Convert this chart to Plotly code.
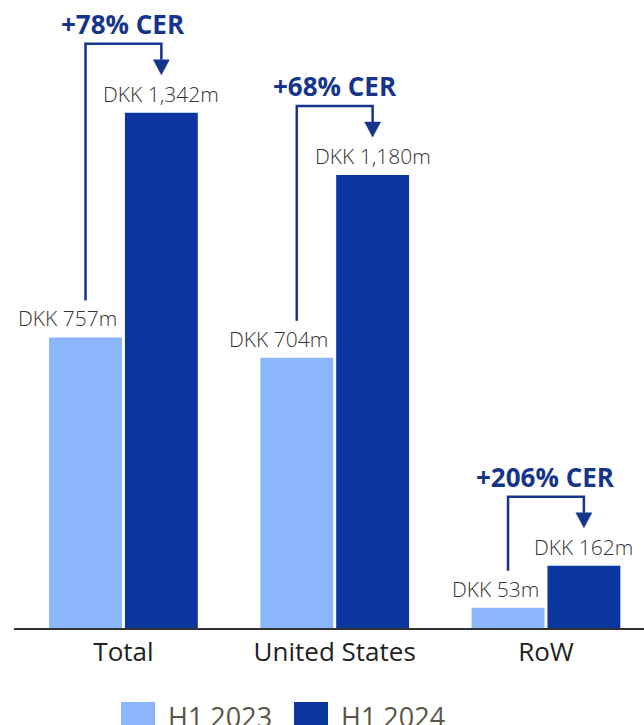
import plotly.graph_objects as go

categories = ["Total", "United States", "RoW"]
h1_2023 = [757, 704, 53]
h1_2024 = [1342, 1180, 162]
label_2023 = ["DKK 757m", "DKK 704m", "DKK 53m"]
label_2024 = ["DKK 1,342m", "DKK 1,180m", "DKK 162m"]
growth = ["+78% CER", "+68% CER", "+206% CER"]
series_names = ["H1 2023", "H1 2024"]

LIGHT = "#8cb6fc"
DARK = "#0b36a0"
NAVY = "#14358a"
FONT = "Open Sans"

W, H = 644, 725
ML, MR, MT, MB = 14, 0, 0, 97
PH = H - MT - MB          # plot height in px
PW = W - ML - MR
YMAX = 1636.0
X0, X1 = -0.518, 2.464
py = YMAX / PH            # data units per px (y)
px = (X1 - X0) / PW       # data units per px (x)

BW = 0.345
GAP = 0.007
xs = list(range(len(categories)))

fig = go.Figure()
fig.add_trace(go.Bar(x=xs, y=h1_2023, name=series_names[0], marker_color=LIGHT,
                     width=BW, offset=-GAP - BW, marker_line_width=0, showlegend=False))
fig.add_trace(go.Bar(x=xs, y=h1_2024, name=series_names[1], marker_color=DARK,
                     width=BW, offset=GAP, marker_line_width=0, showlegend=False))

ann = []
shapes = []
for i in xs:
    lc = i - GAP - BW / 2
    dc = i + GAP + BW / 2
    # value labels
    ann.append(dict(x=i - GAP, y=h1_2023[i], xref="x", yref="y", text=label_2023[i],
                    showarrow=False, xanchor="right", yanchor="middle", xshift=-3, yshift=19,
                    font=dict(family=FONT, size=21, color="#333333", weight=300)))
    ann.append(dict(x=dc, y=h1_2024[i], xref="x", yref="y", text=label_2024[i],
                    showarrow=False, xanchor="center", yanchor="middle", yshift=19,
                    font=dict(family=FONT, size=21, color="#333333", weight=300)))
    # growth text
    ann.append(dict(x=i, y=h1_2024[i] + 89 * py, xref="x", yref="y", text="<b>" + growth[i] + "</b>",
                    showarrow=False, xanchor="center", yanchor="middle",
                    font=dict(family=FONT, size=26, color=NAVY)))
    yb = h1_2023[i] + 37 * py
    yh = h1_2024[i] + 69 * py
    yt = h1_2024[i] + 53 * py
    ytip = h1_2024[i] + 38 * py
    shapes.append(dict(type="path", xref="x", yref="y",
                       path=f"M {lc} {yb} L {lc} {yh} L {dc} {yh} L {dc} {yt}",
                       line=dict(color=NAVY, width=2.5)))
    shapes.append(dict(type="path", xref="x", yref="y",
                       path=f"M {dc - 8 * px} {yt} L {dc + 8 * px} {yt} L {dc} {ytip} Z",
                       fillcolor=NAVY, line=dict(color=NAVY, width=0.5)))

# legend (drawn manually to match large swatches)
def pxx(p):
    return (p - ML) / PW

def pyy(p):
    return (PH - (p - MT)) / PH

leg_x = [121, 294]
for k, (name, col) in enumerate(zip(series_names, [LIGHT, DARK])):
    shapes.append(dict(type="rect", xref="paper", yref="paper",
                       x0=pxx(leg_x[k]), x1=pxx(leg_x[k] + 34), y0=pyy(702), y1=pyy(740),
                       fillcolor=col, line=dict(width=0)))
    ann.append(dict(x=pxx(leg_x[k] + 45), y=pyy(716), xref="paper", yref="paper", text=name,
                    showarrow=False, xanchor="left", yanchor="middle",
                    font=dict(family=FONT, size=27, color="#5b5545")))

fig.update_layout(
    width=W, height=H, margin=dict(l=ML, r=MR, t=MT, b=MB, pad=0),
    plot_bgcolor="white", paper_bgcolor="white",
    barmode="overlay", showlegend=False,
    annotations=ann, shapes=shapes,
    xaxis=dict(range=[X0, X1], tickvals=xs, ticktext=categories, showgrid=False,
               zeroline=False, showline=True, linecolor="#333333", linewidth=2,
               ticks="", tickfont=dict(family=FONT, size=26, color="#222222"), fixedrange=True),
    yaxis=dict(range=[0, YMAX], visible=False, showgrid=False, zeroline=False, fixedrange=True),
)

fig.write_html("out.html", config={"displayModeBar": False})
